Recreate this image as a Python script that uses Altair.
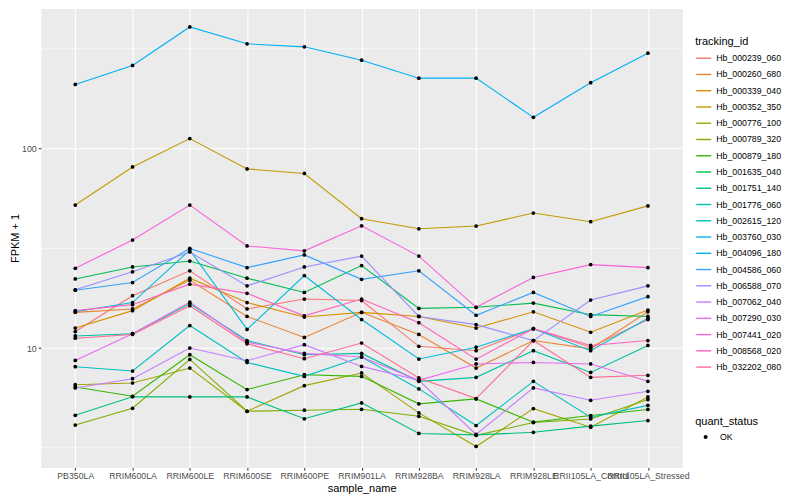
import altair as alt
import pandas as pd

samples = ["PB350LA", "RRIM600LA", "RRIM600LE", "RRIM600SE", "RRIM600PE", "RRIM901LA",
           "RRIM928BA", "RRIM928LA", "RRIM928LE", "RRII105LA_Control", "RRII105LA_Stressed"]

tracking_ids = ["Hb_000239_060", "Hb_000260_680", "Hb_000339_040", "Hb_000352_350",
                "Hb_000776_100", "Hb_000789_320", "Hb_000879_180", "Hb_001635_040",
                "Hb_001751_140", "Hb_001776_060", "Hb_002615_120", "Hb_003760_030",
                "Hb_004096_180", "Hb_004586_060", "Hb_006588_070", "Hb_007062_040",
                "Hb_007290_030", "Hb_007441_020", "Hb_008568_020", "Hb_032202_080"]

hue_colors = ["#F8766D", "#EA8331", "#D89000", "#C09B00", "#A3A500", "#7CAE00", "#39B600",
              "#00BB4E", "#00BF7D", "#00C1A3", "#00BFC4", "#00BAE0", "#00B0F6", "#35A2FF",
              "#9590FF", "#C77CFF", "#E76BF3", "#FA62DB", "#FF62BC", "#FF6C90"]

# FPKM + 1 per sample, in the order of `samples`
hb_000239_060 = [12.1, 18.3, 24.4, 15.7, 17.6, 17.3, 10.2, 9.7, 12.5, 10.1, 13.9]
hb_000260_680 = [15.1, 15.7, 21.9, 14.4, 11.3, 15.1, 11.7, 7.94, 10.9, 9.9, 15.2]
hb_000339_040 = [12.6, 15.4, 22.4, 16.9, 14.3, 15.1, 14.4, 12.6, 15.2, 12.0, 15.5]
hb_000352_350 = [52.1, 80.9, 112.2, 79.1, 75.0, 44.5, 39.6, 40.9, 47.5, 43.0, 51.6]
hb_000776_100 = [6.55, 6.68, 7.94, 4.82, 6.48, 7.5, 4.73, 3.21, 4.97, 4.01, 5.69]
hb_000789_320 = [4.11, 4.99, 8.77, 4.82, 4.88, 4.93, 4.55, 3.65, 4.23, 4.41, 5.52]
hb_000879_180 = [6.38, 5.73, 9.26, 6.19, 7.35, 7.21, 5.25, 5.56, 4.25, 4.59, 4.92]
hb_001635_040 = [22.2, 25.5, 27.3, 22.4, 19.0, 25.9, 15.8, 16.0, 16.8, 14.7, 14.4]
hb_001751_140 = [4.60, 5.70, 5.69, 5.69, 4.42, 5.31, 3.73, 3.67, 3.78, 4.06, 4.33]
hb_001776_060 = [11.5, 11.8, 16.7, 10.9, 9.26, 9.4, 6.81, 7.13, 9.7, 7.55, 10.3]
hb_002615_120 = [8.06, 7.67, 12.97, 8.47, 7.21, 9.02, 6.24, 4.09, 6.81, 4.5, 5.16]
hb_003760_030 = [15.2, 16.9, 31.0, 12.4, 23.1, 13.9, 8.81, 10.1, 12.5, 9.7, 14.1]
hb_004096_180 = [209.7, 261.0, 407.0, 335.0, 323.6, 277.3, 225.4, 225.4, 143.4, 213.8, 300.6]
hb_004586_060 = [19.5, 21.3, 31.6, 25.3, 29.3, 22.1, 24.4, 14.6, 19.0, 14.4, 18.1]
hb_006588_070 = [19.6, 24.1, 30.3, 20.5, 25.5, 28.9, 14.4, 13.1, 10.9, 17.4, 20.5]
hb_007062_040 = [6.31, 7.02, 10.0, 8.64, 10.4, 8.09, 6.89, 3.69, 6.31, 5.47, 6.07]
hb_007290_030 = [8.67, 11.8, 17.0, 10.7, 9.4, 9.02, 6.89, 8.32, 8.47, 8.32, 6.81]
hb_007441_020 = [25.1, 34.8, 52.1, 32.5, 30.7, 41.0, 28.9, 16.0, 22.6, 26.2, 25.3]
hb_008568_020 = [15.4, 16.5, 20.9, 18.8, 14.5, 17.6, 13.4, 8.8, 12.5, 10.3, 10.9]
hb_032202_080 = [11.2, 11.7, 16.3, 10.5, 8.84, 10.6, 7.08, 5.58, 10.9, 7.13, 7.3]

series = {
    "Hb_000239_060": hb_000239_060, "Hb_000260_680": hb_000260_680,
    "Hb_000339_040": hb_000339_040, "Hb_000352_350": hb_000352_350,
    "Hb_000776_100": hb_000776_100, "Hb_000789_320": hb_000789_320,
    "Hb_000879_180": hb_000879_180, "Hb_001635_040": hb_001635_040,
    "Hb_001751_140": hb_001751_140, "Hb_001776_060": hb_001776_060,
    "Hb_002615_120": hb_002615_120, "Hb_003760_030": hb_003760_030,
    "Hb_004096_180": hb_004096_180, "Hb_004586_060": hb_004586_060,
    "Hb_006588_070": hb_006588_070, "Hb_007062_040": hb_007062_040,
    "Hb_007290_030": hb_007290_030, "Hb_007441_020": hb_007441_020,
    "Hb_008568_020": hb_008568_020, "Hb_032202_080": hb_032202_080,
}

y_major = [10, 100]
y_minor = [3.162, 31.62, 316.2]
y_domain = [2.52, 503]

rows = []
for tid in tracking_ids:
    for i, (s, v) in enumerate(zip(samples, series[tid])):
        rows.append({"sample_name": s, "idx": i, "tracking_id": tid, "fpkm": v,
                     "quant_status": "OK"})
df = pd.DataFrame(rows)
minor_df = pd.DataFrame({"fpkm": y_minor})

FONT = "Liberation Sans"

yscale = alt.Scale(type="log", domain=y_domain, nice=False)

y_axis = alt.Axis(title="FPKM + 1", values=y_major, format="d",
                  labelFontSize=8.8, labelColor="#4D4D4D", labelFont=FONT,
                  tickColor="#333333", tickSize=2.75, tickWidth=1, labelPadding=2,
                  domain=False, grid=True, gridColor="white", gridWidth=1.1,
                  titleFontSize=11, titleFontWeight="normal", titleColor="black",
                  titleFont=FONT, titlePadding=1)

x_enc = alt.X(
    "sample_name:N", sort=samples,
    scale=alt.Scale(type="point", padding=0.6),
    axis=alt.Axis(title="sample_name", labelAngle=0, labelOverlap=False,
                  labelFontSize=8.8, labelColor="#4D4D4D", labelFont=FONT,
                  tickColor="#333333", tickSize=2.75, tickWidth=1, labelPadding=1.5,
                  domain=False, grid=True, gridColor="white", gridWidth=1.1,
                  titleFontSize=11, titleFontWeight="normal", titleColor="black",
                  titleFont=FONT, titlePadding=2),
)
y_enc = alt.Y("fpkm:Q", scale=yscale, axis=y_axis)

minor = alt.Chart(minor_df).mark_rule(color="white", strokeWidth=0.6).encode(
    y=alt.Y("fpkm:Q", scale=yscale, axis=y_axis)
)

lines = alt.Chart(df).mark_line(strokeWidth=1.1).encode(
    x=x_enc, y=y_enc,
    color=alt.Color(
        "tracking_id:N",
        scale=alt.Scale(domain=tracking_ids, range=hue_colors),
        legend=alt.Legend(title="tracking_id", orient="none", legendX=656, legendY=27.5,
                          titleFontSize=11, titleFontWeight="normal", titleColor="black",
                          titleFont=FONT, titlePadding=2.7,
                          labelFontSize=8.8, labelColor="black", labelFont=FONT,
                          symbolType="stroke", symbolSize=225, symbolStrokeWidth=1.4,
                          rowPadding=2.3, labelOffset=4, padding=0),
    ),
    order=alt.Order("idx:Q"),
)

points = alt.Chart(df).mark_point(filled=True, color="black", size=14, opacity=1).encode(
    x=x_enc, y=y_enc,
    detail="tracking_id:N",
    shape=alt.Shape(
        "quant_status:N",
        scale=alt.Scale(domain=["OK"], range=["circle"]),
        legend=alt.Legend(title="quant_status", orient="none", legendX=656, legendY=408.5,
                          titleFontSize=11, titleFontWeight="normal", titleColor="black",
                          titleFont=FONT, titlePadding=5.6,
                          labelFontSize=8.8, labelColor="black", labelFont=FONT,
                          symbolSize=16, symbolFillColor="black", symbolStrokeColor="black",
                          symbolOffset=6, labelOffset=10, padding=0),
    ),
)

chart = alt.layer(minor, lines, points).properties(
    width=643, height=460,
    autosize=alt.AutoSizeParams(type="none"),
    padding={"left": 33, "top": 0, "right": 110, "bottom": 26},
).configure(
    font=FONT,
    view=alt.ViewConfig(fill="#EBEBEB", stroke="transparent"),
)

chart.save("out.html", embed_options={"renderer": "svg", "actions": False})
